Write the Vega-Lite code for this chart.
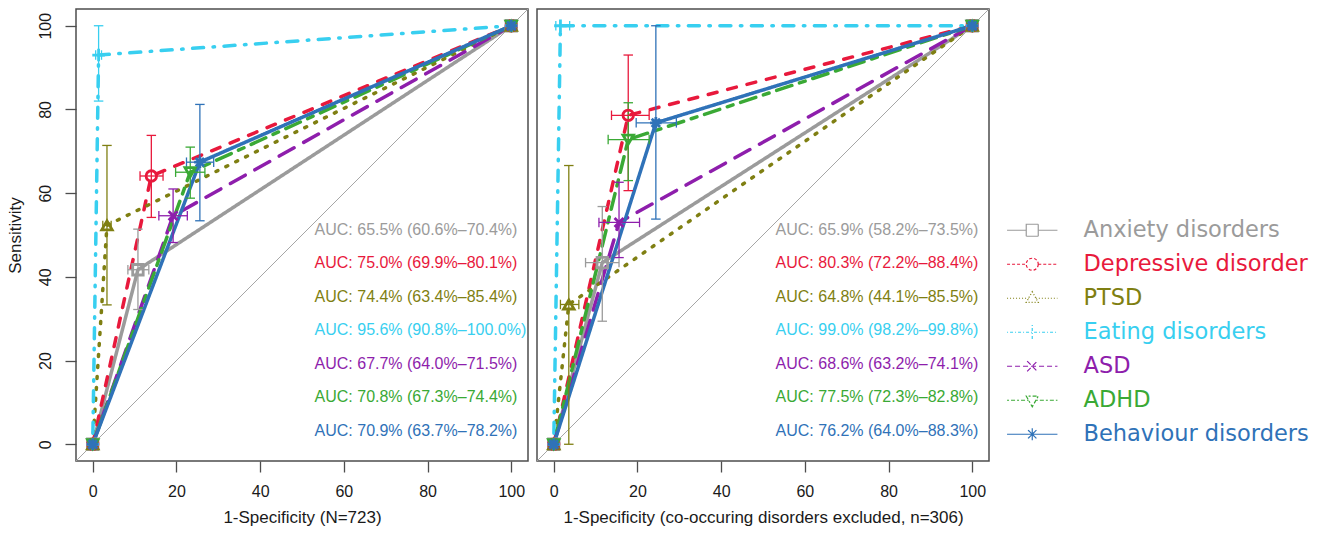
{
  "$schema": "https://vega.github.io/schema/vega-lite/v6.json",
  "padding": {"left": 5, "top": 7, "right": 5, "bottom": 3},
  "background": "white",
  "spacing": 9,
  "bounds": "flush",
  "config": {
    "view": {"stroke": "#4d4d4d", "strokeWidth": 1.5},
    "axis": {
      "domain": false, "grid": false, "tickColor": "#4d4d4d", "tickSize": 11, "tickWidth": 1.3,
      "labelFont": "Liberation Sans", "labelFontSize": 16, "labelColor": "#1a1a1a",
      "titleFont": "Liberation Sans", "titleFontSize": 17, "titleFontWeight": "normal", "titleColor": "#1a1a1a"
    },
    "legend": {
      "orient": "none", "legendX": 484, "legendY": 210,
      "labelFont": "DejaVu Sans", "labelFontSize": 22.5, "labelLimit": 400, "symbolSize": 144, "rowPadding": 11, "labelOffset": 40,
      "symbolOpacity": 1, "symbolStrokeWidth": 1.2
    }
  },
  "datasets": {
    "roc": [
      {"panel": "L", "series": "Anxiety disorders", "pt": 0, "fpr": 0, "tpr": 0},
      {"panel": "L", "series": "Anxiety disorders", "pt": 1, "fpr": 10.8, "tpr": 41.7, "xlo": 8.4, "xhi": 13.4, "ylo": 32.2, "yhi": 51.4},
      {"panel": "L", "series": "Anxiety disorders", "pt": 2, "fpr": 100, "tpr": 100},
      {"panel": "L", "series": "Depressive disorder", "pt": 0, "fpr": 0, "tpr": 0},
      {"panel": "L", "series": "Depressive disorder", "pt": 1, "fpr": 14.0, "tpr": 64.1, "xlo": 11.3, "xhi": 16.8, "ylo": 54.2, "yhi": 73.8},
      {"panel": "L", "series": "Depressive disorder", "pt": 2, "fpr": 100, "tpr": 100},
      {"panel": "L", "series": "PTSD", "pt": 0, "fpr": 0, "tpr": 0},
      {"panel": "L", "series": "PTSD", "pt": 1, "fpr": 3.4, "tpr": 52.3, "xlo": 2.4, "xhi": 4.4, "ylo": 33.3, "yhi": 71.4},
      {"panel": "L", "series": "PTSD", "pt": 2, "fpr": 100, "tpr": 100},
      {"panel": "L", "series": "Eating disorders", "pt": 0, "fpr": 0, "tpr": 0},
      {"panel": "L", "series": "Eating disorders", "pt": 1, "fpr": 1.4, "tpr": 93.0, "xlo": 0.7, "xhi": 2.1, "ylo": 82.0, "yhi": 100},
      {"panel": "L", "series": "Eating disorders", "pt": 2, "fpr": 100, "tpr": 100},
      {"panel": "L", "series": "ASD", "pt": 0, "fpr": 0, "tpr": 0},
      {"panel": "L", "series": "ASD", "pt": 1, "fpr": 19.2, "tpr": 54.6, "xlo": 15.8, "xhi": 22.6, "ylo": 48.2, "yhi": 61.0},
      {"panel": "L", "series": "ASD", "pt": 2, "fpr": 100, "tpr": 100},
      {"panel": "L", "series": "ADHD", "pt": 0, "fpr": 0, "tpr": 0},
      {"panel": "L", "series": "ADHD", "pt": 1, "fpr": 23.3, "tpr": 65.0, "xlo": 19.8, "xhi": 26.8, "ylo": 58.8, "yhi": 71.0},
      {"panel": "L", "series": "ADHD", "pt": 2, "fpr": 100, "tpr": 100},
      {"panel": "L", "series": "Behaviour disorders", "pt": 0, "fpr": 0, "tpr": 0},
      {"panel": "L", "series": "Behaviour disorders", "pt": 1, "fpr": 25.6, "tpr": 67.4, "xlo": 22.4, "xhi": 28.9, "ylo": 53.4, "yhi": 81.2},
      {"panel": "L", "series": "Behaviour disorders", "pt": 2, "fpr": 100, "tpr": 100},
      {"panel": "R", "series": "Anxiety disorders", "pt": 0, "fpr": 0, "tpr": 0},
      {"panel": "R", "series": "Anxiety disorders", "pt": 1, "fpr": 11.6, "tpr": 43.4, "xlo": 7.6, "xhi": 15.6, "ylo": 29.4, "yhi": 56.8},
      {"panel": "R", "series": "Anxiety disorders", "pt": 2, "fpr": 100, "tpr": 100},
      {"panel": "R", "series": "Depressive disorder", "pt": 0, "fpr": 0, "tpr": 0},
      {"panel": "R", "series": "Depressive disorder", "pt": 1, "fpr": 17.8, "tpr": 78.6, "xlo": 13.8, "xhi": 22.8, "ylo": 60.6, "yhi": 93.0},
      {"panel": "R", "series": "Depressive disorder", "pt": 2, "fpr": 100, "tpr": 100},
      {"panel": "R", "series": "PTSD", "pt": 0, "fpr": 0, "tpr": 0},
      {"panel": "R", "series": "PTSD", "pt": 1, "fpr": 3.6, "tpr": 33.4, "xlo": 1.6, "xhi": 6.0, "ylo": 0, "yhi": 66.6},
      {"panel": "R", "series": "PTSD", "pt": 2, "fpr": 100, "tpr": 100},
      {"panel": "R", "series": "Eating disorders", "pt": 0, "fpr": 0, "tpr": 0},
      {"panel": "R", "series": "Eating disorders", "pt": 1, "fpr": 1.6, "tpr": 100, "xlo": 0.5, "xhi": 3.8},
      {"panel": "R", "series": "Eating disorders", "pt": 2, "fpr": 100, "tpr": 100},
      {"panel": "R", "series": "ASD", "pt": 0, "fpr": 0, "tpr": 0},
      {"panel": "R", "series": "ASD", "pt": 1, "fpr": 15.6, "tpr": 53.0, "xlo": 10.8, "xhi": 20.5, "ylo": 44.6, "yhi": 62.6},
      {"panel": "R", "series": "ASD", "pt": 2, "fpr": 100, "tpr": 100},
      {"panel": "R", "series": "ADHD", "pt": 0, "fpr": 0, "tpr": 0},
      {"panel": "R", "series": "ADHD", "pt": 1, "fpr": 17.8, "tpr": 72.8, "xlo": 13.0, "xhi": 22.8, "ylo": 63.0, "yhi": 81.6},
      {"panel": "R", "series": "ADHD", "pt": 2, "fpr": 100, "tpr": 100},
      {"panel": "R", "series": "Behaviour disorders", "pt": 0, "fpr": 0, "tpr": 0},
      {"panel": "R", "series": "Behaviour disorders", "pt": 1, "fpr": 24.4, "tpr": 76.8, "xlo": 19.7, "xhi": 29.3, "ylo": 53.8, "yhi": 100},
      {"panel": "R", "series": "Behaviour disorders", "pt": 2, "fpr": 100, "tpr": 100}
    ],
    "auc": [
      {"panel": "L", "series": "Anxiety disorders", "rank": 0, "label": "AUC: 65.5% (60.6%–70.4%)"},
      {"panel": "L", "series": "Depressive disorder", "rank": 1, "label": "AUC: 75.0% (69.9%–80.1%)"},
      {"panel": "L", "series": "PTSD", "rank": 2, "label": "AUC: 74.4% (63.4%–85.4%)"},
      {"panel": "L", "series": "Eating disorders", "rank": 3, "label": "AUC: 95.6% (90.8%–100.0%)"},
      {"panel": "L", "series": "ASD", "rank": 4, "label": "AUC: 67.7% (64.0%–71.5%)"},
      {"panel": "L", "series": "ADHD", "rank": 5, "label": "AUC: 70.8% (67.3%–74.4%)"},
      {"panel": "L", "series": "Behaviour disorders", "rank": 6, "label": "AUC: 70.9% (63.7%–78.2%)"},
      {"panel": "R", "series": "Anxiety disorders", "rank": 0, "label": "AUC: 65.9% (58.2%–73.5%)"},
      {"panel": "R", "series": "Depressive disorder", "rank": 1, "label": "AUC: 80.3% (72.2%–88.4%)"},
      {"panel": "R", "series": "PTSD", "rank": 2, "label": "AUC: 64.8% (44.1%–85.5%)"},
      {"panel": "R", "series": "Eating disorders", "rank": 3, "label": "AUC: 99.0% (98.2%–99.8%)"},
      {"panel": "R", "series": "ASD", "rank": 4, "label": "AUC: 68.6% (63.2%–74.1%)"},
      {"panel": "R", "series": "ADHD", "rank": 5, "label": "AUC: 77.5% (72.3%–82.8%)"},
      {"panel": "R", "series": "Behaviour disorders", "rank": 6, "label": "AUC: 76.2% (64.0%–88.3%)"}
    ]
  },
  "hconcat": [
    {
      "width": 452, "height": 452,
      "resolve": {"scale": {"y": "independent"}},
      "layer": [
        {
          "layer": [
            {
              "data": {"values": [{}]},
              "mark": {"type": "rule", "color": "#a6a6a6", "strokeWidth": 1},
              "encoding": {
                "x": {"datum": -4, "type": "quantitative", "scale": {"domain": [-4, 104], "nice": false, "zero": false},
                      "axis": {"values": [0, 20, 40, 60, 80, 100], "title": "1-Specificity (N=723)", "labelPadding": 11, "titlePadding": 10}},
                "y": {"datum": -4, "type": "quantitative", "scale": {"domain": [-4, 104], "nice": false, "zero": false},
                      "axis": {"values": [0, 20, 40, 60, 80, 100], "title": "Sensitivity", "labelAngle": 270, "labelAlign": "center", "labelBaseline": "bottom", "labelPadding": 12, "titlePadding": 13}},
                "x2": {"datum": 104}, "y2": {"datum": 104}
              }
            },
            {
              "data": {"name": "roc"},
              "transform": [{"filter": "datum.panel === 'L'"}],
              "mark": {"type": "line", "strokeWidth": 3.5, "strokeCap": "round", "strokeJoin": "round"},
              "encoding": {
                "x": {"field": "fpr", "type": "quantitative"},
                "y": {"field": "tpr", "type": "quantitative"},
                "order": {"field": "pt"},
                "color": {"field": "series", "type": "nominal", "legend": null,
                  "scale": {"domain": ["Anxiety disorders", "Depressive disorder", "PTSD", "Eating disorders", "ASD", "ADHD", "Behaviour disorders"],
                            "range": ["#9b9b9b", "#e8193c", "#7f7f12", "#38cff0", "#8e1eac", "#3aa935", "#2f72b8"]}},
                "strokeDash": {"field": "series", "type": "nominal", "legend": null,
                  "scale": {"domain": ["Anxiety disorders", "Depressive disorder", "PTSD", "Eating disorders", "ASD", "ADHD", "Behaviour disorders"],
                            "range": [[1, 0], [9, 11], [2, 9], [1.5, 9.5, 11, 9.5], [17, 11], [6, 8, 16, 8], [1, 0]]}}
              }
            },
            {
              "data": {"name": "roc"},
              "transform": [{"filter": "datum.panel === 'L' && isValid(datum.ylo)"}],
              "mark": {"type": "rule", "strokeWidth": 1.3},
              "encoding": {
                "x": {"field": "fpr", "type": "quantitative"},
                "y": {"field": "ylo", "type": "quantitative"}, "y2": {"field": "yhi"},
                "color": {"field": "series", "type": "nominal", "legend": null}
              }
            },
            {
              "data": {"name": "roc"},
              "transform": [{"filter": "datum.panel === 'L' && isValid(datum.xlo)"}],
              "mark": {"type": "rule", "strokeWidth": 1.3},
              "encoding": {
                "x": {"field": "xlo", "type": "quantitative"}, "x2": {"field": "xhi"},
                "y": {"field": "tpr", "type": "quantitative"},
                "color": {"field": "series", "type": "nominal", "legend": null}
              }
            },
            {
              "data": {"name": "roc"},
              "transform": [{"filter": "datum.panel === 'L' && isValid(datum.ylo)"}, {"fold": ["ylo", "yhi"], "as": ["end", "yv"]}],
              "mark": {"type": "point", "shape": "M-1,0L1,0", "size": 90, "strokeWidth": 1.3, "filled": false, "opacity": 1},
              "encoding": {
                "x": {"field": "fpr", "type": "quantitative"},
                "y": {"field": "yv", "type": "quantitative"},
                "color": {"field": "series", "type": "nominal", "legend": null}
              }
            },
            {
              "data": {"name": "roc"},
              "transform": [{"filter": "datum.panel === 'L' && isValid(datum.xlo)"}, {"fold": ["xlo", "xhi"], "as": ["end", "xv"]}],
              "mark": {"type": "point", "shape": "M0,-1L0,1", "size": 90, "strokeWidth": 1.3, "filled": false, "opacity": 1},
              "encoding": {
                "x": {"field": "xv", "type": "quantitative"},
                "y": {"field": "tpr", "type": "quantitative"},
                "color": {"field": "series", "type": "nominal", "legend": null}
              }
            },
            {
              "data": {"name": "roc"},
              "transform": [{"filter": "datum.panel === 'L'"}],
              "mark": {"type": "point", "filled": false, "strokeWidth": 2.8, "size": 110, "opacity": 1},
              "encoding": {
                "x": {"field": "fpr", "type": "quantitative"},
                "y": {"field": "tpr", "type": "quantitative"},
                "color": {"field": "series", "type": "nominal", "legend": null},
                "shape": {"field": "series", "type": "nominal", "legend": null,
                  "scale": {"domain": ["Anxiety disorders", "Depressive disorder", "PTSD", "Eating disorders", "ASD", "ADHD", "Behaviour disorders"],
                            "range": ["square", "circle", "triangle-up", "M-1.2,0L1.2,0M0,-1.2L0,1.2", "M-0.85,-0.85L0.85,0.85M-0.85,0.85L0.85,-0.85", "triangle-down", "M-1.1,0L1.1,0M0,-1.1L0,1.1M-0.8,-0.8L0.8,0.8M-0.8,0.8L0.8,-0.8"]}}
              }
            }
          ]
        },
        {
          "data": {"name": "auc"},
          "transform": [{"filter": "datum.panel === 'L'"}],
          "mark": {"type": "text", "align": "left", "baseline": "middle", "font": "Liberation Sans", "fontSize": 16},
          "encoding": {
            "x": {"datum": 53},
            "y": {"field": "rank", "type": "quantitative", "axis": null, "scale": {"domain": [-6.6, 6.9], "reverse": true, "nice": false, "zero": false}},
            "text": {"field": "label"},
            "color": {"field": "series", "type": "nominal", "legend": null}
          }
        }
      ]
    },
    {
      "width": 452, "height": 452,
      "resolve": {"scale": {"y": "independent", "color": "independent", "shape": "independent", "strokeDash": "independent"}},
      "layer": [
        {
          "layer": [
            {
              "data": {"values": [{}]},
              "mark": {"type": "rule", "color": "#a6a6a6", "strokeWidth": 1},
              "encoding": {
                "x": {"datum": -4, "type": "quantitative", "scale": {"domain": [-4, 104], "nice": false, "zero": false},
                      "axis": {"values": [0, 20, 40, 60, 80, 100], "title": "1-Specificity  (co-occuring disorders excluded, n=306)", "labelPadding": 11, "titlePadding": 10}},
                "y": {"datum": -4, "type": "quantitative", "scale": {"domain": [-4, 104], "nice": false, "zero": false}, "axis": null},
                "x2": {"datum": 104}, "y2": {"datum": 104}
              }
            },
            {
              "data": {"name": "roc"},
              "transform": [{"filter": "datum.panel === 'R'"}],
              "mark": {"type": "line", "strokeWidth": 3.5, "strokeCap": "round", "strokeJoin": "round"},
              "encoding": {
                "x": {"field": "fpr", "type": "quantitative"},
                "y": {"field": "tpr", "type": "quantitative"},
                "order": {"field": "pt"},
                "color": {"field": "series", "type": "nominal", "legend": null,
                  "scale": {"domain": ["Anxiety disorders", "Depressive disorder", "PTSD", "Eating disorders", "ASD", "ADHD", "Behaviour disorders"],
                            "range": ["#9b9b9b", "#e8193c", "#7f7f12", "#38cff0", "#8e1eac", "#3aa935", "#2f72b8"]}},
                "strokeDash": {"field": "series", "type": "nominal", "legend": null,
                  "scale": {"domain": ["Anxiety disorders", "Depressive disorder", "PTSD", "Eating disorders", "ASD", "ADHD", "Behaviour disorders"],
                            "range": [[1, 0], [9, 11], [2, 9], [1.5, 9.5, 11, 9.5], [17, 11], [6, 8, 16, 8], [1, 0]]}}
              }
            },
            {
              "data": {"name": "roc"},
              "transform": [{"filter": "datum.panel === 'R' && isValid(datum.ylo)"}],
              "mark": {"type": "rule", "strokeWidth": 1.3},
              "encoding": {
                "x": {"field": "fpr", "type": "quantitative"},
                "y": {"field": "ylo", "type": "quantitative"}, "y2": {"field": "yhi"},
                "color": {"field": "series", "type": "nominal", "legend": null}
              }
            },
            {
              "data": {"name": "roc"},
              "transform": [{"filter": "datum.panel === 'R' && isValid(datum.xlo)"}],
              "mark": {"type": "rule", "strokeWidth": 1.3},
              "encoding": {
                "x": {"field": "xlo", "type": "quantitative"}, "x2": {"field": "xhi"},
                "y": {"field": "tpr", "type": "quantitative"},
                "color": {"field": "series", "type": "nominal", "legend": null}
              }
            },
            {
              "data": {"name": "roc"},
              "transform": [{"filter": "datum.panel === 'R' && isValid(datum.ylo)"}, {"fold": ["ylo", "yhi"], "as": ["end", "yv"]}],
              "mark": {"type": "point", "shape": "M-1,0L1,0", "size": 90, "strokeWidth": 1.3, "filled": false, "opacity": 1},
              "encoding": {
                "x": {"field": "fpr", "type": "quantitative"},
                "y": {"field": "yv", "type": "quantitative"},
                "color": {"field": "series", "type": "nominal", "legend": null}
              }
            },
            {
              "data": {"name": "roc"},
              "transform": [{"filter": "datum.panel === 'R' && isValid(datum.xlo)"}, {"fold": ["xlo", "xhi"], "as": ["end", "xv"]}],
              "mark": {"type": "point", "shape": "M0,-1L0,1", "size": 90, "strokeWidth": 1.3, "filled": false, "opacity": 1},
              "encoding": {
                "x": {"field": "xv", "type": "quantitative"},
                "y": {"field": "tpr", "type": "quantitative"},
                "color": {"field": "series", "type": "nominal", "legend": null}
              }
            },
            {
              "data": {"name": "roc"},
              "transform": [{"filter": "datum.panel === 'R'"}],
              "mark": {"type": "point", "filled": false, "strokeWidth": 2.8, "size": 110, "opacity": 1},
              "encoding": {
                "x": {"field": "fpr", "type": "quantitative"},
                "y": {"field": "tpr", "type": "quantitative"},
                "color": {"field": "series", "type": "nominal", "legend": null},
                "shape": {"field": "series", "type": "nominal", "legend": null,
                  "scale": {"domain": ["Anxiety disorders", "Depressive disorder", "PTSD", "Eating disorders", "ASD", "ADHD", "Behaviour disorders"],
                            "range": ["square", "circle", "triangle-up", "M-1.2,0L1.2,0M0,-1.2L0,1.2", "M-0.85,-0.85L0.85,0.85M-0.85,0.85L0.85,-0.85", "triangle-down", "M-1.1,0L1.1,0M0,-1.1L0,1.1M-0.8,-0.8L0.8,0.8M-0.8,0.8L0.8,-0.8"]}}
              }
            }
          ]
        },
        {
          "data": {"name": "auc"},
          "transform": [{"filter": "datum.panel === 'R'"}],
          "mark": {"type": "text", "align": "left", "baseline": "middle", "font": "Liberation Sans", "fontSize": 16},
          "encoding": {
            "x": {"datum": 53},
            "y": {"field": "rank", "type": "quantitative", "axis": null, "scale": {"domain": [-6.6, 6.9], "reverse": true, "nice": false, "zero": false}},
            "text": {"field": "label"},
            "color": {"field": "series", "type": "nominal", "legend": null,
              "scale": {"domain": ["Anxiety disorders", "Depressive disorder", "PTSD", "Eating disorders", "ASD", "ADHD", "Behaviour disorders"],
                        "range": ["#9b9b9b", "#e8193c", "#7f7f12", "#38cff0", "#8e1eac", "#3aa935", "#2f72b8"]}}
          }
        },
        {
          "data": {"name": "auc"},
          "transform": [{"filter": "datum.panel === 'R'"}],
          "mark": {"type": "point", "opacity": 0, "filled": false, "strokeWidth": 1.2, "size": 144},
          "encoding": {
            "x": {"datum": 50},
            "y": {"datum": 25, "axis": null, "scale": {"domain": [0, 50]}},
            "color": {"field": "series", "type": "nominal",
              "scale": {"domain": ["Anxiety disorders", "Depressive disorder", "PTSD", "Eating disorders", "ASD", "ADHD", "Behaviour disorders"],
                        "range": ["#9b9b9b", "#e8193c", "#7f7f12", "#38cff0", "#8e1eac", "#3aa935", "#2f72b8"]},
              "legend": {"title": null,
                "labelColor": {"expr": "({'Anxiety disorders':'#9b9b9b','Depressive disorder':'#e8193c','PTSD':'#7f7f12','Eating disorders':'#38cff0','ASD':'#8e1eac','ADHD':'#3aa935','Behaviour disorders':'#2f72b8'})[datum.value]"}}},
            "shape": {"field": "series", "type": "nominal",
              "legend": {"title": null,
                "labelColor": {"expr": "({'Anxiety disorders':'#9b9b9b','Depressive disorder':'#e8193c','PTSD':'#7f7f12','Eating disorders':'#38cff0','ASD':'#8e1eac','ADHD':'#3aa935','Behaviour disorders':'#2f72b8'})[datum.value]"}},
              "scale": {"domain": ["Anxiety disorders", "Depressive disorder", "PTSD", "Eating disorders", "ASD", "ADHD", "Behaviour disorders"],
                        "range": ["M-4.2,0H-1M1,0H4.2M-1,-1H1V1H-1Z", "M-4.2,0H-1M1,0H4.2M1,0A1,1,0,1,1,-1,0A1,1,0,1,1,1,0", "M-4.2,0H-0.6M0.6,0H4.2M0,-1.1L1,0.7H-1Z", "M-4.2,0H4.2M0,-1.2V1.2", "M-4.2,0H4.2M-0.85,-0.85L0.85,0.85M-0.85,0.85L0.85,-0.85", "M-4.2,0H-0.6M0.6,0H4.2M0,1.1L1,-0.7H-1Z", "M-4.2,0H4.2M0,-1V1M-0.7,-0.7L0.7,0.7M-0.7,0.7L0.7,-0.7"]}},
            "strokeDash": {"field": "series", "type": "nominal",
              "legend": {"title": null,
                "labelColor": {"expr": "({'Anxiety disorders':'#9b9b9b','Depressive disorder':'#e8193c','PTSD':'#7f7f12','Eating disorders':'#38cff0','ASD':'#8e1eac','ADHD':'#3aa935','Behaviour disorders':'#2f72b8'})[datum.value]"}},
              "scale": {"domain": ["Anxiety disorders", "Depressive disorder", "PTSD", "Eating disorders", "ASD", "ADHD", "Behaviour disorders"],
                        "range": [[1, 0], [3, 2], [1, 2], [1, 2, 3, 2], [5, 3], [2, 2, 4, 2], [1, 0]]}}
          }
        }
      ]
    }
  ]
}
